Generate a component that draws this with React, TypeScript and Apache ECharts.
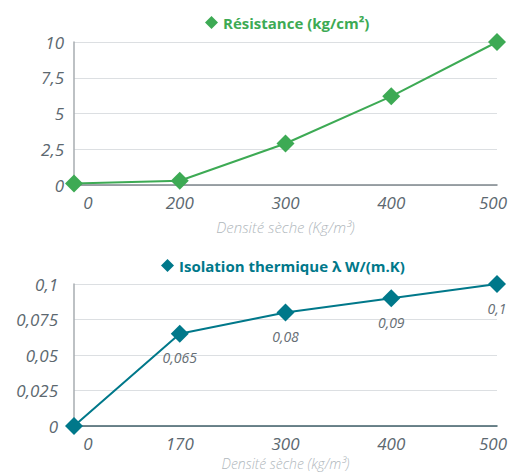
import React, { useEffect, useRef } from "react";
import * as echarts from "echarts";

const densityTop = ["0", "200", "300", "400", "500"];
const resistance = [0.1, 0.3, 2.9, 6.2, 10];
const densityBottom = ["0", "170", "300", "400", "500"];
const conductivity = [0, 0.065, 0.08, 0.09, 0.1];
const resistanceTicks = [0, 2.5, 5, 7.5, 10];
const conductivityTicks = [0, 0.025, 0.05, 0.075, 0.1];

const GREEN = "#3daa54";
const TEAL = "#00788a";
const LABEL = "#5c6870";
const NAME = "#b0b7bc";
const FONT = "'Open Sans', Lato, sans-serif";

const fmt = (v: number) => String(v).replace(".", ",");

export default function App() {
  const ref = useRef<HTMLDivElement>(null);
  useEffect(() => {
    if (!ref.current) return;
    const chart = echarts.init(ref.current, undefined, { renderer: "svg" });
    const tickText = { color: LABEL, fontStyle: "italic", fontSize: 17, fontFamily: FONT };
    const xAxisCommon = {
      type: "category" as const,
      boundaryGap: false,
      nameLocation: "middle" as const,
      nameMoveOverlap: false,
      nameTextStyle: {
        color: NAME,
        fontStyle: "italic",
        fontSize: 15,
        lineHeight: 15,
        fontFamily: FONT,
        fontWeight: 300,
      },
      axisTick: { show: false },
      axisLabel: {
        ...tickText,
        margin: 9,
        formatter: (v: string, i: number) =>
          i === 0 ? `{first|${v}}` : i === 4 ? `{last|${v}}` : v,
        rich: {
          first: { ...tickText, padding: [0, 0, 0, 28] },
          last: { ...tickText, padding: [0, 8, 0, 0] },
        },
      },
      splitLine: { show: false },
    };
    const yAxisCommon = {
      type: "value" as const,
      axisLine: { show: true, lineStyle: { color: "#a7adb1", width: 1.5 } },
      axisTick: { show: false },
      splitLine: { show: true, lineStyle: { color: "#dcdfe2", width: 1.2 } },
    };
    const yLabel = (margin: number) => ({
      ...tickText,
      margin,
      formatter: (v: number) => fmt(v),
    });
    chart.setOption({
      animation: false,
      backgroundColor: "#ffffff",
      legend: [
        {
          data: ["Résistance (kg/cm²)"],
          left: 200,
          top: 10,
          icon: "diamond",
          itemWidth: 13,
          itemHeight: 13,
          itemGap: 8,
          textStyle: { color: GREEN, fontWeight: "bold", fontSize: 15, fontFamily: FONT },
        },
        {
          data: ["Isolation thermique λ W/(m.K)"],
          left: 156,
          top: 253,
          icon: "diamond",
          itemWidth: 13,
          itemHeight: 13,
          itemGap: 8,
          textStyle: { color: TEAL, fontWeight: "bold", fontSize: 15, fontFamily: FONT },
        },
      ],
      grid: [
        { left: 74, right: 13, top: 42, height: 143, outerBoundsMode: "none", containLabel: false },
        { left: 74, right: 13, top: 284, height: 142, outerBoundsMode: "none", containLabel: false },
      ],
      xAxis: [
        {
          ...xAxisCommon,
          gridIndex: 0,
          data: densityTop,
          name: "Densité sèche (Kg/m³)",
          nameGap: 34,
          axisLine: { show: true, lineStyle: { color: "#7d868c", width: 1.5 } },
        },
        {
          ...xAxisCommon,
          gridIndex: 1,
          data: densityBottom,
          name: "Densité sèche (kg/m³)",
          nameGap: 30,
          nameTextStyle: {
            color: NAME,
            fontStyle: "italic",
            fontSize: 14,
            lineHeight: 14,
            fontFamily: FONT,
            fontWeight: 300,
          },
          axisLine: { show: true, lineStyle: { color: "#3f5f68", width: 1.5 } },
        },
      ],
      yAxis: [
        {
          ...yAxisCommon,
          gridIndex: 0,
          min: resistanceTicks[0],
          max: resistanceTicks[resistanceTicks.length - 1],
          interval: resistanceTicks[1] - resistanceTicks[0],
          axisLabel: yLabel(10),
        },
        {
          ...yAxisCommon,
          gridIndex: 1,
          min: conductivityTicks[0],
          max: conductivityTicks[conductivityTicks.length - 1],
          interval: conductivityTicks[1] - conductivityTicks[0],
          axisLabel: yLabel(16),
        },
      ],
      series: [
        {
          name: "Résistance (kg/cm²)",
          type: "line",
          xAxisIndex: 0,
          yAxisIndex: 0,
          data: resistance,
          symbol: "diamond",
          symbolSize: 18,
          color: GREEN,
          lineStyle: { color: GREEN, width: 2 },
          itemStyle: { color: GREEN },
        },
        {
          name: "Isolation thermique λ W/(m.K)",
          type: "line",
          xAxisIndex: 1,
          yAxisIndex: 1,
          data: conductivity,
          symbol: "diamond",
          symbolSize: 18,
          color: TEAL,
          lineStyle: { color: TEAL, width: 2 },
          itemStyle: { color: TEAL },
          label: {
            show: true,
            position: "bottom",
            distance: 8,
            color: "#666e74",
            fontStyle: "italic",
            fontSize: 14,
            fontFamily: FONT,
            formatter: (p: any) => (p.value === 0 ? "" : fmt(p.value)),
          },
        },
      ],
    });
    return () => chart.dispose();
  }, []);
  return <div ref={ref} style={{ width: 510, height: 474, position: "absolute", left: 0, top: 0 }} />;
}
